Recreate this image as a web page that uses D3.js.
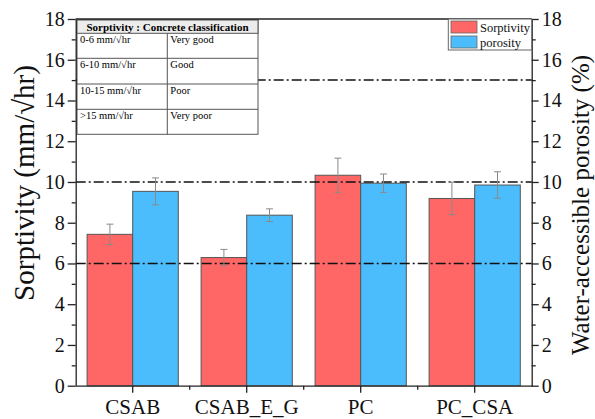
<!DOCTYPE html>
<html>
<head>
<meta charset="utf-8">
<script src="https://cdn.jsdelivr.net/npm/d3@7"></script>
<style>
  html, body { margin: 0; padding: 0; background: #fff; }
  svg { display: block; }
  svg text { font-family: "Liberation Serif", "Times New Roman", serif; }
</style>
</head>
<body>
<svg id="chart" width="595" height="419"></svg>
<script>
// Sample groups
const categories = ["CSAB", "CSAB_E_G", "PC", "PC_CSA"];
// Sorptivity (mm/√hr) and its standard deviation
const sorptivity = [7.43, 6.29, 10.33, 9.19];
const sorptivityErr = [0.5, 0.4, 0.84, 0.8];
// Water-accessible porosity (%) and its standard deviation
const porosity = [9.54, 8.37, 9.94, 9.85];
const porosityErr = [0.66, 0.31, 0.45, 0.65];
// Classification thresholds drawn as dash-dot lines
const thresholds = [6, 10, 15];
const yTicks = [0, 2, 4, 6, 8, 10, 12, 14, 16, 18];
const classRows = [
  ["0-6 mm/√hr", "Very good"],
  ["6-10 mm/√hr", "Good"],
  ["10-15 mm/√hr", "Poor"],
  [">15 mm/√hr", "Very poor"]
];
const seriesNames = ["Sorptivity", "porosity"];
const colors = ["#ff6767", "#4bbdfc"];
const SERIF = '"Liberation Serif", "Times New Roman", serif';

const svg = d3.select("#chart");
const plotLeft = 75.7, plotRight = 531.7, plotTop = 19, plotBottom = 385.7;

const x = d3.scaleBand().domain(categories).range([plotLeft, plotRight]).paddingInner(0).paddingOuter(0);
const yL = d3.scaleLinear().domain([0, 18]).range([plotBottom, plotTop]);
const yR = d3.scaleLinear().domain([0, 18]).range([plotBottom, plotTop]);
const barW = x.bandwidth() * 0.4;

// Bars
const series = [
  { vals: sorptivity, errs: sorptivityErr, off: -1 },
  { vals: porosity, errs: porosityErr, off: 0 }
];
series.forEach((s, si) => {
  const scale = si === 0 ? yL : yR;
  svg.append("g").selectAll("rect").data(categories).join("rect")
    .attr("x", (c) => x(c) + x.bandwidth() / 2 + s.off * barW)
    .attr("y", (c, i) => scale(s.vals[i]))
    .attr("width", barW)
    .attr("height", (c, i) => scale(0) - scale(s.vals[i]))
    .attr("fill", colors[si])
    .attr("stroke", "#555")
    .attr("stroke-width", 1);
});

// Threshold lines
svg.append("g").selectAll("line").data(thresholds).join("line")
  .attr("x1", plotLeft).attr("x2", plotRight)
  .attr("y1", (d) => yL(d)).attr("y2", (d) => yL(d))
  .attr("stroke", "#111").attr("stroke-width", 1.5)
  .attr("stroke-dasharray", "10,3,2,3");

// Error bars
series.forEach((s, si) => {
  const scale = si === 0 ? yL : yR;
  const g = svg.append("g").attr("stroke", "#8a8a8a").attr("stroke-width", 1);
  categories.forEach((c, i) => {
    const cx = x(c) + x.bandwidth() / 2 + s.off * barW + barW / 2;
    const hi = scale(s.vals[i] + s.errs[i]);
    const lo = scale(s.vals[i] - s.errs[i]);
    g.append("line").attr("x1", cx).attr("x2", cx).attr("y1", hi).attr("y2", lo);
    g.append("line").attr("x1", cx - 3.5).attr("x2", cx + 3.5).attr("y1", hi).attr("y2", hi);
    g.append("line").attr("x1", cx - 3.5).attr("x2", cx + 3.5).attr("y1", lo).attr("y2", lo);
  });
});

// Classification table
const tX = 77, tY = 20, tW = 181, colX = 167.3;
const rowTops = [33.3, 58.3, 84, 109.3, 134.3];
const tbl = svg.append("g");
tbl.append("rect").attr("x", tX).attr("y", tY).attr("width", tW).attr("height", rowTops[4] - tY)
  .attr("fill", "#fff").attr("stroke", "#555").attr("stroke-width", 1);
tbl.append("rect").attr("x", tX).attr("y", tY).attr("width", tW).attr("height", rowTops[0] - tY)
  .attr("fill", "#ececec").attr("stroke", "#555").attr("stroke-width", 1);
tbl.append("text").attr("x", tX + tW / 2).attr("y", tY + 10.7)
  .attr("text-anchor", "middle").style("font-size", "11px").style("font-weight", "bold")
  .style("font-family", SERIF)
  .text("Sorptivity : Concrete classification");
classRows.forEach((r, i) => {
  const yT = rowTops[i];
  if (i > 0) tbl.append("line").attr("x1", tX).attr("x2", tX + tW).attr("y1", yT).attr("y2", yT)
    .attr("stroke", "#555").attr("stroke-width", 1);
  tbl.append("text").attr("x", tX + 3).attr("y", yT + 10).style("font-size", "10.5px")
    .style("font-family", SERIF).text(r[0]);
  tbl.append("text").attr("x", colX + 3).attr("y", yT + 10).style("font-size", "10.5px")
    .style("font-family", SERIF).text(r[1]);
});
tbl.append("line").attr("x1", colX).attr("x2", colX).attr("y1", rowTops[0]).attr("y2", rowTops[4])
  .attr("stroke", "#555").attr("stroke-width", 1);

// Axes
const axisStyle = (size) => (g) => {
  g.selectAll("path").attr("stroke", "#222").attr("stroke-width", 1.3);
  g.selectAll("line").attr("stroke", "#222").attr("stroke-width", 1.3);
  g.selectAll("text").style("font-size", size + "px").attr("fill", "#111").style("font-family", SERIF);
};
const minorVals = d3.range(1, 18, 2);

svg.append("g").attr("transform", `translate(${plotLeft},0)`)
  .call(d3.axisLeft(yL).tickValues(yTicks).tickSize(8).tickPadding(3).tickSizeOuter(0))
  .call(axisStyle(20));
svg.append("g").attr("transform", `translate(${plotLeft},0)`)
  .call(d3.axisLeft(yL).tickValues(minorVals).tickSize(4).tickFormat("").tickSizeOuter(0))
  .call(axisStyle(20)).select("path").remove();

svg.append("g").attr("transform", `translate(${plotRight},0)`)
  .call(d3.axisRight(yR).tickValues(yTicks).tickSize(7).tickPadding(3).tickSizeOuter(0))
  .call(axisStyle(20));
svg.append("g").attr("transform", `translate(${plotRight},0)`)
  .call(d3.axisRight(yR).tickValues(minorVals).tickSize(4).tickFormat("").tickSizeOuter(0))
  .call(axisStyle(20)).select("path").remove();

const xAxis = svg.append("g").attr("transform", `translate(0,${plotBottom})`)
  .call(d3.axisBottom(x).tickSize(7).tickSizeOuter(0))
  .call(axisStyle(21));
xAxis.selectAll("text").attr("y", 28.8).attr("dy", null);
// minor ticks between groups on x
const xMinor = svg.append("g").attr("stroke", "#222").attr("stroke-width", 1.3);
categories.slice(1).forEach((c) => {
  xMinor.append("line").attr("x1", x(c)).attr("x2", x(c)).attr("y1", plotBottom).attr("y2", plotBottom + 4);
});
// top frame
svg.append("line").attr("x1", plotLeft).attr("x2", plotRight).attr("y1", plotTop).attr("y2", plotTop)
  .attr("stroke", "#222").attr("stroke-width", 1.3);

// Axis titles
svg.append("text").attr("transform", `translate(33.5,183) rotate(-90)`)
  .attr("text-anchor", "middle").style("font-size", "29px").style("font-family", SERIF).attr("fill", "#111")
  .text("Sorptivity (mm/√hr)");
svg.append("text").attr("transform", `translate(588.5,205) rotate(-90)`)
  .attr("text-anchor", "middle").style("font-size", "25px").style("font-family", SERIF).attr("fill", "#111")
  .text("Water-accessible porosity (%)");

// Legend
const lg = svg.append("g");
lg.append("rect").attr("x", 448.3).attr("y", plotTop).attr("width", plotRight - 448.3).attr("height", 31)
  .attr("fill", "#fff").attr("stroke", "#666").attr("stroke-width", 1);
seriesNames.forEach((n, i) => {
  lg.append("rect").attr("x", 451).attr("y", 21 + i * 15).attr("width", 26).attr("height", 12)
    .attr("fill", colors[i]).attr("stroke", "#666").attr("stroke-width", 0.8);
  lg.append("text").attr("x", 480).attr("y", 31.5 + i * 15).style("font-size", "12.5px")
    .style("font-family", SERIF).attr("fill", "#111").text(n);
});
</script>
</body>
</html>
